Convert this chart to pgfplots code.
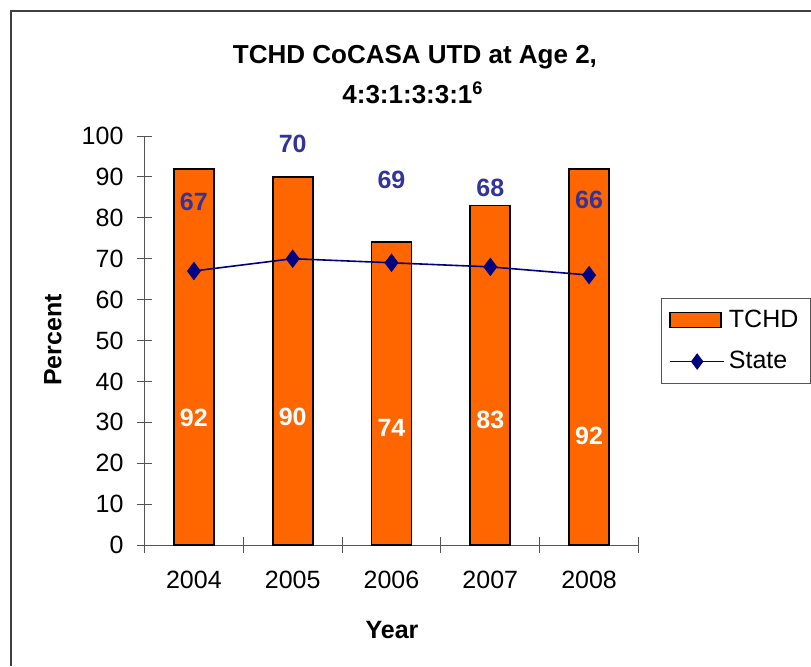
\documentclass[border=0pt]{standalone}
\usepackage{fontspec}
\setmainfont{Liberation Sans}
\usepackage{pgfplots}
\pgfplotsset{compat=1.18}
\definecolor{barorange}{HTML}{FF6600}
\definecolor{statenavy}{HTML}{000080}
\definecolor{lblblue}{HTML}{333399}
\definecolor{axgray}{HTML}{555555}
\newcommand{\fs}{\fontsize{12.5}{15}\selectfont}
\begin{document}
\begin{tikzpicture}
  % page size: 811 x 666 px at 0.5pt per px
  \path[use as bounding box] (0,0) rectangle (405.5pt,333pt);
  % outer chart frame (only left and top visible)
  \draw[line width=1pt, color=black!75] (5.5pt,0pt) -- (5.5pt,327.5pt) -- (405.5pt,327.5pt);

  \node[font=\fontsize{13}{15}\selectfont\bfseries] at (207.5pt,304.5pt) {TCHD CoCASA UTD at Age 2,};
  \node[font=\fontsize{13}{15}\selectfont\bfseries] at (206.5pt,286.5pt) {4:3:1:3:3:1\textsuperscript{6}};
  \node[font=\fs\bfseries, rotate=90] at (26.5pt,163pt) {Percent};
  \node[font=\fs\bfseries] at (196pt,18pt) {Year};

  \begin{axis}[
    at={(72.25pt,60.5pt)}, anchor=south west,
    scale only axis,
    width=247pt, height=204.5pt,
    xmin=-0.5, xmax=4.5,
    ymin=0, ymax=100,
    axis lines*=left,
    axis line style={-, color=axgray},
    every tick/.style={color=axgray},
    tick align=center,
    major tick length=8pt,
    ytick={0,10,...,100},
    xtick={-0.5,0.5,1.5,2.5,3.5,4.5},
    xticklabels={},
    extra x ticks={0,1,2,3,4},
    extra x tick labels={2004,2005,2006,2007,2008},
    extra x tick style={major tick length=0pt},
    tick label style={font=\fs},
    /pgf/number format/assume math mode=true,
    yticklabel style={anchor=east, xshift=-3pt},
    xticklabel style={anchor=north, yshift=-9.5pt},
    clip=false,
    legend style={at={(rel axis cs:1.0455,0.604)}, anchor=north west,
      draw=axgray, font=\fs, inner xsep=4pt, inner ysep=3.75pt,
      row sep=6.5pt, cells={anchor=west}},
  ]
    \addplot[ybar, bar width=20pt, fill=barorange, draw=black, line width=0.9pt,
      legend image code/.code={\draw[fill=barorange, draw=black, line width=0.8pt] (0pt,-3.75pt) rectangle (25.5pt,3.75pt);}]
      coordinates {(0,92) (1,90) (2,74) (3,83) (4,92)};
    \addlegendentry{TCHD}
    \addplot[sharp plot, color=statenavy, line width=0.8pt, mark=diamond*,
      mark size=4pt, mark options={fill=statenavy},
      legend image code/.code={\draw[color=statenavy, line width=0.8pt] (0pt,0pt) -- (27pt,0pt);
        \draw[color=statenavy, fill=statenavy, mark=diamond*, mark size=3.5pt] plot coordinates {(13.5pt,0pt)};}]
      coordinates {(0,67) (1,70) (2,69) (3,68) (4,66)};
    \addlegendentry{State}

    % data labels
    \begin{scope}[every node/.style={font=\fs\bfseries}]
      \node[text=lblblue] at (axis cs:0,83.9) {67};
      \node[text=lblblue] at (axis cs:1,98.0) {70};
      \node[text=lblblue] at (axis cs:2,89.3) {69};
      \node[text=lblblue] at (axis cs:3,87.3) {68};
      \node[text=lblblue] at (axis cs:4,84.4) {66};
      \node[text=white] at (axis cs:0,31.1) {92};
      \node[text=white] at (axis cs:1,31.3) {90};
      \node[text=white] at (axis cs:2,28.6) {74};
      \node[text=white] at (axis cs:3,30.6) {83};
      \node[text=white] at (axis cs:4,26.7) {92};
    \end{scope}
  \end{axis}
\end{tikzpicture}
\end{document}
